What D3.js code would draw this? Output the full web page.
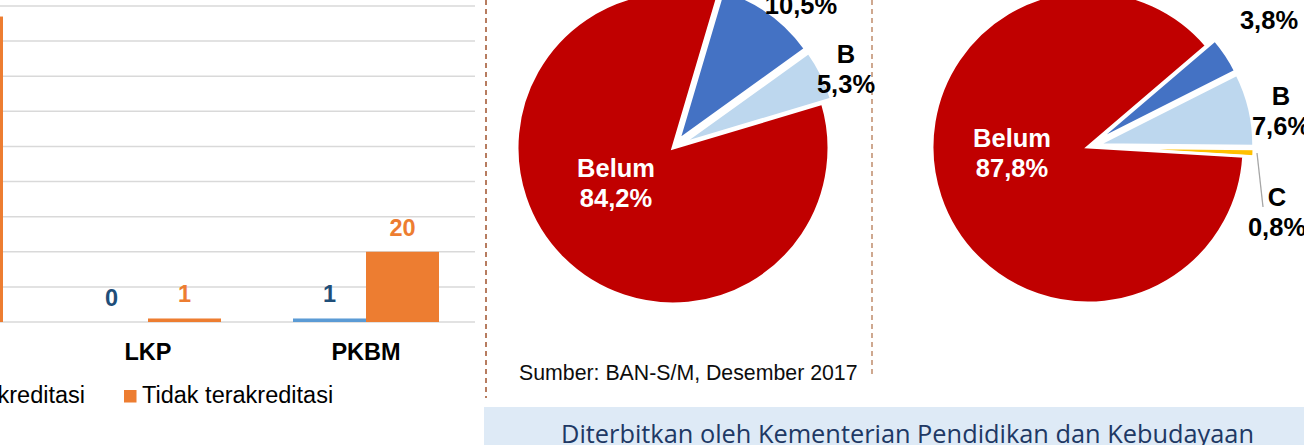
<!DOCTYPE html>
<html>
<head>
<meta charset="utf-8">
<script src="https://cdn.jsdelivr.net/npm/d3@7"></script>
<style>
  body { margin: 0; background: #fff; }
  svg { display: block; font-family: "Liberation Sans", Arial, sans-serif; }
</style>
</head>
<body>
<svg id="mainsvg" width="1304" height="445"></svg>
<script>
// bar chart data (left category is cut off in the picture)
const barCats = ["SKB", "LKP", "PKBM"];
const barSeries = ["Terakreditasi", "Tidak terakreditasi"];
const akreditasi = [0, 0, 1];
const tidakAkreditasi = [87, 1, 20];
const gridTicks = [0, 10, 20, 30, 40, 50, 60, 70, 80, 90];

// pie data
const pieCats = ["A", "B", "C", "Belum"];
const pie1Values = [10.5, 5.3, 0, 84.2];
const pie2Values = [3.8, 7.6, 0.8, 87.8];
const pieLabels1 = ["10,5%", "5,3%", "", "84,2%"];
const pieLabels2 = ["3,8%", "7,6%", "0,8%", "87,8%"];

const source = "Sumber: BAN-S/M, Desember 2017";
const footer = "Diterbitkan oleh Kementerian Pendidikan dan Kebudayaan";

let svg = d3.select('#mainsvg');
const barColor = ["#5B9BD5", "#ED7D31"];
const valColor = ["#1F4E79", "#ED7D31"];
const sliceColor = {A: "#4472C4", B: "#BDD7EE", C: "#FFC000", Belum: "#C00000"};

// ---------- bar chart ----------
let x0 = d3.scaleBand().domain(barCats).range([-179, 475]);
let x1 = d3.scaleBand().domain(barSeries).range([36, 182]);
let y = d3.scaleLinear().domain([0, 90]).range([322, 6]);

svg.append('g').selectAll('line').data(gridTicks)
  .enter().append('line')
  .attr('x1', 0).attr('x2', 475)
  .attr('y1', d => y(d)).attr('y2', d => y(d))
  .attr('stroke', '#D9D9D9').attr('stroke-width', 1.5);

const rows = barCats.map((c, i) => ({cat: c, vals: [akreditasi[i], tidakAkreditasi[i]]}));
let groups = svg.append('g').selectAll('g').data(rows)
  .enter().append('g')
  .attr('transform', d => `translate(${x0(d.cat)},0)`);

groups.selectAll('rect').data(d => d.vals.map((v, j) => ({s: barSeries[j], v: v, j: j})))
  .enter().append('rect')
  .attr('x', d => x1(d.s))
  .attr('width', x1.bandwidth())
  .attr('y', d => y(d.v))
  .attr('height', d => y(0) - y(d.v))
  .attr('fill', d => barColor[d.j]);

groups.selectAll('text.val').data(d => d.vals.map((v, j) => ({s: barSeries[j], v: v, j: j})))
  .enter().append('text')
  .attr('class', 'val')
  .attr('x', d => x1(d.s) + x1.bandwidth() / 2)
  .attr('y', d => y(d.v) - 16)
  .attr('text-anchor', 'middle')
  .attr('font-size', 23.5).attr('font-weight', 'bold')
  .attr('fill', d => valColor[d.j])
  .text(d => d.v);

svg.append('g').selectAll('text').data(barCats)
  .enter().append('text')
  .attr('x', d => x0(d) + x0.bandwidth() / 2)
  .attr('y', 360)
  .attr('text-anchor', 'middle')
  .attr('font-size', 23.5).attr('font-weight', 'bold')
  .text(d => d);

// legend
let lg = svg.append('g');
lg.append('text').attr('x', 142).attr('y', 403)
  .attr('font-size', 23.5).text(barSeries[1]);
lg.append('rect').attr('x', 124).attr('y', 390).attr('width', 12.5).attr('height', 12.5)
  .attr('fill', barColor[1]);
let t1 = lg.append('text').attr('x', 85).attr('y', 403).attr('text-anchor', 'end')
  .attr('font-size', 23.5).text(barSeries[0]);
let w1 = t1.node().getComputedTextLength();
lg.append('rect').attr('x', 85 - w1 - 18).attr('y', 390).attr('width', 12.5).attr('height', 12.5)
  .attr('fill', barColor[0]);

// ---------- dividers ----------
svg.append('line').attr('x1', 486).attr('x2', 486).attr('y1', 0).attr('y2', 398)
  .attr('stroke', '#A0522D').attr('stroke-width', 1.5).attr('stroke-dasharray', '5,4');
svg.append('line').attr('x1', 872).attr('x2', 872).attr('y1', 0).attr('y2', 377)
  .attr('stroke', '#B57A55').attr('stroke-width', 1.3).attr('stroke-dasharray', '5,4');

// ---------- pies ----------
const r = 156;
const explode = 10;
let arc = d3.arc().innerRadius(0).outerRadius(r);

function drawPie(cx, cy, values, labels, startDeg, labelPos) {
  let start = startDeg * Math.PI / 180;
  let pie = d3.pie().sort(null).startAngle(start).endAngle(start + 2 * Math.PI);
  let arcs = pie(values).map((d, i) => Object.assign(d, {cat: pieCats[i], label: labels[i]}));
  let g = svg.append('g').attr('transform', `translate(${cx},${cy})`);
  g.selectAll('path').data(arcs.filter(d => d.value > 0))
    .enter().append('path')
    .attr('d', arc)
    .attr('transform', d => {
      if (d.cat === "Belum") return null;
      let a = (d.startAngle + d.endAngle) / 2;
      return `translate(${explode * Math.sin(a)},${-explode * Math.cos(a)})`;
    })
    .attr('fill', d => sliceColor[d.cat])
    .attr('stroke', '#fff').attr('stroke-width', 3).attr('stroke-linejoin', 'miter');

  arcs.filter(d => d.value > 0).forEach(d => {
    let p = labelPos[d.cat];
    if (p.line) {
      g.append('line').attr('x1', p.line[0]).attr('y1', p.line[1])
        .attr('x2', p.line[2]).attr('y2', p.line[3])
        .attr('stroke', '#A6A6A6').attr('stroke-width', 1.3);
    }
    let t = g.append('text').attr('text-anchor', 'middle')
      .attr('font-size', 25.5).attr('font-weight', 'bold')
      .attr('fill', d.cat === "Belum" ? '#fff' : '#000');
    t.append('tspan').attr('x', p.x).attr('y', p.y).text(d.cat);
    t.append('tspan').attr('x', p.x).attr('y', p.y + 30).text(d.label);
  });
}

drawPie(673, 148, pie1Values, pieLabels1, 16.5, {
  A: {x: 128, y: -164},
  B: {x: 173, y: -85},
  Belum: {x: -57, y: 29}
});
drawPie(1088, 147, pie2Values, pieLabels2, 49.5, {
  A: {x: 181, y: -148},
  B: {x: 193, y: -42},
  C: {x: 189, y: 59, line: [169, 6, 175, 60]},
  Belum: {x: -76, y: 0}
});

// ---------- source + footer ----------
svg.append('text').attr('x', 519).attr('y', 380).attr('font-size', 21.3)
  .attr('fill', '#0D0D0D').text(source);

svg.append('rect').attr('x', 484).attr('y', 407).attr('width', 820).attr('height', 40)
  .attr('fill', '#DEEAF6');
svg.append('text').attr('x', 561).attr('y', 443)
  .attr('font-family', '"Open Sans", "Noto Sans", sans-serif')
  .attr('font-size', 25).attr('fill', '#203864')
  .attr('textLength', 693).attr('lengthAdjust', 'spacingAndGlyphs')
  .text(footer);
</script>
</body>
</html>
